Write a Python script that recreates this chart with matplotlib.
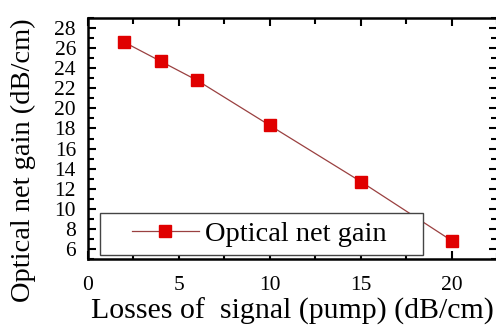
import matplotlib
matplotlib.use('Agg')
import matplotlib.pyplot as plt
from matplotlib.patches import Rectangle
from matplotlib.ticker import MultipleLocator

# data
losses = [2, 4, 6, 10, 15, 20]
net_gain = [26.6, 24.7, 22.8, 18.3, 12.7, 6.8]

plt.rcParams['font.family'] = 'Liberation Serif'

fig = plt.figure(figsize=(4.96, 3.29), dpi=100)
ax = fig.add_axes([0.177, 0.213, 0.826, 0.732])

ax.plot(losses, net_gain, color='#9a4040', lw=0.9, marker='s', ms=8.5,
        mfc='#e00000', mec='#e00000', label='Optical net gain')

ax.set_xlim(0, 22.5)
ax.set_ylim(5, 29)
ax.xaxis.set_major_locator(MultipleLocator(5))
ax.xaxis.set_minor_locator(MultipleLocator(2.5))
ax.yaxis.set_minor_locator(MultipleLocator(1))
ax.set_yticks(range(6, 29, 2))

ax.tick_params(which='both', direction='in', top=True, right=True, width=1.5)
ax.tick_params(which='major', length=6, labelsize=15.5, pad=12)
ax.tick_params(which='minor', length=4)
ax.tick_params(axis='y', which='major', pad=8.5)
for s in ax.spines.values():
    s.set_linewidth(1.8)

ax.set_xlabel('Losses of  signal (pump) (dB/cm)', fontsize=21.5)
ax.set_ylabel('Optical net gain (dB/cm)', fontsize=20.5)
ax.yaxis.set_label_coords(-0.127, 0.41)
ax.xaxis.set_label_coords(0.5, -0.16)

# legend frame drawn separately, it is wider than the legend contents
ax.add_patch(Rectangle((0.029, 0.016), 0.789, 0.173, transform=ax.transAxes,
                       fill=True, facecolor='white', edgecolor='#444444',
                       lw=1.0, zorder=4))
leg = ax.legend(loc='center left', bbox_to_anchor=(0.108, 0.103), fontsize=20.5,
                handlelength=2.35, handletextpad=0.2, frameon=False,
                borderaxespad=0, borderpad=0)
leg.set_zorder(5)

fig.savefig('out.png', dpi=100)
